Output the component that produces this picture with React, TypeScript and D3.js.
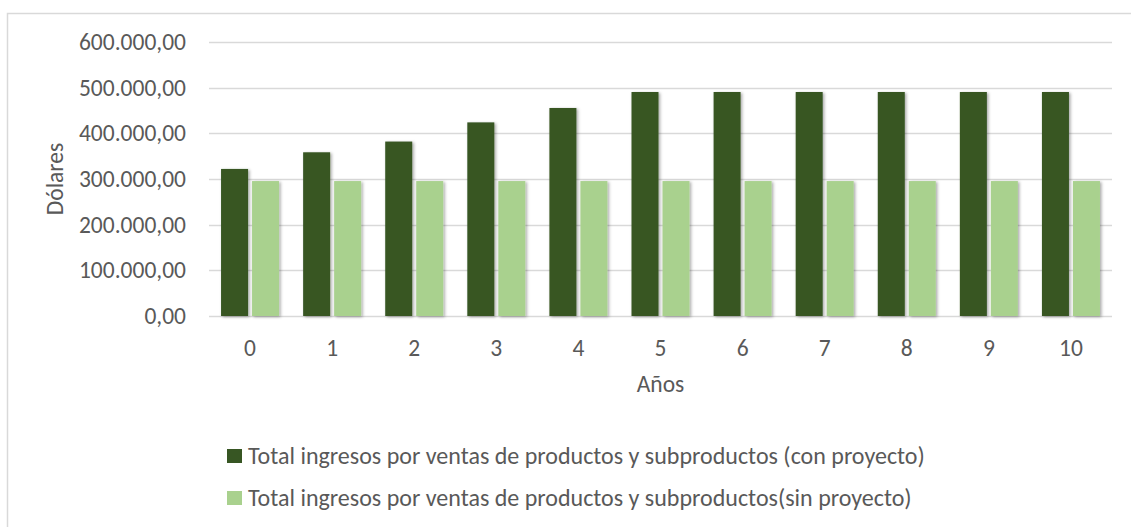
import React from "react";
import * as d3 from "d3";

// Years on the x axis
const years: string[] = ["0", "1", "2", "3", "4", "5", "6", "7", "8", "9", "10"];

// Total revenue from product and by-product sales, with the project (USD)
const conProyecto: number[] = [
  322000, 358500, 382000, 424000, 455500, 490500, 490500, 490500, 490500, 490500, 490500,
];

// Total revenue from product and by-product sales, without the project (USD)
const sinProyecto: number[] = [
  295500, 295500, 295500, 295500, 295500, 295500, 295500, 295500, 295500, 295500, 295500,
];

const seriesNames: string[] = [
  "Total ingresos por ventas de productos y subproductos (con proyecto)",
  "Total ingresos por ventas de productos y subproductos(sin proyecto)",
];

const yTicks: number[] = [0, 100000, 200000, 300000, 400000, 500000, 600000];

const WIDTH = 1131;
const HEIGHT = 527;
const FONT = "Carlito, Calibri, Lato, 'Open Sans', sans-serif";
const FS = 23.5;
const LEGEND_FS = 24;
const TEXT = "#595959";
const GRID = "#D9D9D9";
const COLORS = ["#375623", "#A9D18E"];

const esLocale = d3.formatLocale({
  decimal: ",",
  thousands: ".",
  grouping: [3],
  currency: ["$", ""],
});
const fmt = esLocale.format(",.2f");

export default function App() {
  const plot = { left: 209, right: 1112, top: 42, bottom: 316 };

  const x0 = d3.scaleBand<string>().domain(years).range([plot.left, plot.right]).padding(0);
  const groupWidth = 58;
  const x1 = d3
    .scaleBand<number>()
    .domain([0, 1])
    .range([0, groupWidth])
    .paddingInner(4 / 31);
  const y = d3.scaleLinear().domain([0, 600000]).range([plot.bottom, plot.top]);

  const series = [conProyecto, sinProyecto];
  const groupOffset = (x0.bandwidth() - groupWidth) / 2;

  return (
    <svg
      width={WIDTH}
      height={HEIGHT}
      style={{ position: "fixed", left: 0, top: 0, background: "#fff" }}
      fontFamily={FONT}
    >
      <defs>
        <filter id="barShadow" x="-30%" y="-10%" width="160%" height="130%">
          <feDropShadow dx="1.5" dy="1" stdDeviation="1.6" floodColor="#000" floodOpacity="0.35" />
        </filter>
      </defs>

      {/* chart frame */}
      <rect x={7.5} y={13.5} width={1200} height={700} fill="#fff" stroke={GRID} strokeWidth={1.5} />

      {/* gridlines */}
      {yTicks.map((t) => (
        <line
          key={`g${t}`}
          x1={plot.left}
          x2={plot.right}
          y1={Math.round(y(t)) + 0.5}
          y2={Math.round(y(t)) + 0.5}
          stroke={GRID}
          strokeWidth={1.5}
        />
      ))}

      {/* bars */}
      {years.map((yr, i) => (
        <g key={yr} transform={`translate(${(x0(yr) ?? 0) + groupOffset},0)`}>
          {series.map((vals, s) => (
            <rect
              key={s}
              x={x1(s)}
              y={y(vals[i])}
              width={x1.bandwidth()}
              height={y(0) - y(vals[i])}
              fill={COLORS[s]}
              filter="url(#barShadow)"
            />
          ))}
        </g>
      ))}

      {/* y tick labels */}
      {yTicks.map((t) => (
        <text
          key={`t${t}`}
          x={186}
          y={y(t)}
          textAnchor="end"
          dominantBaseline="central"
          fontSize={FS}
          fill={TEXT}
        >
          {fmt(t)}
        </text>
      ))}

      {/* x tick labels */}
      {years.map((yr) => (
        <text
          key={`x${yr}`}
          x={(x0(yr) ?? 0) + x0.bandwidth() / 2}
          y={348}
          textAnchor="middle"
          dominantBaseline="central"
          fontSize={FS}
          fill={TEXT}
        >
          {yr}
        </text>
      ))}

      {/* axis titles */}
      <text
        transform={`translate(55,${(plot.top + plot.bottom) / 2}) rotate(-90)`}
        textAnchor="middle"
        dominantBaseline="central"
        fontSize={FS}
        fill={TEXT}
      >
        Dólares
      </text>
      <text
        x={(plot.left + plot.right) / 2}
        y={384}
        textAnchor="middle"
        dominantBaseline="central"
        fontSize={FS}
        fill={TEXT}
      >
        Años
      </text>

      {/* legend */}
      {seriesNames.map((name, s) => (
        <g key={name} transform={`translate(227,${449 + s * 42})`}>
          <rect x={0} y={0} width={15} height={14} fill={COLORS[s]} />
          <text x={21} y={15} fontSize={LEGEND_FS} fill={TEXT}>
            {name}
          </text>
        </g>
      ))}
    </svg>
  );
}
